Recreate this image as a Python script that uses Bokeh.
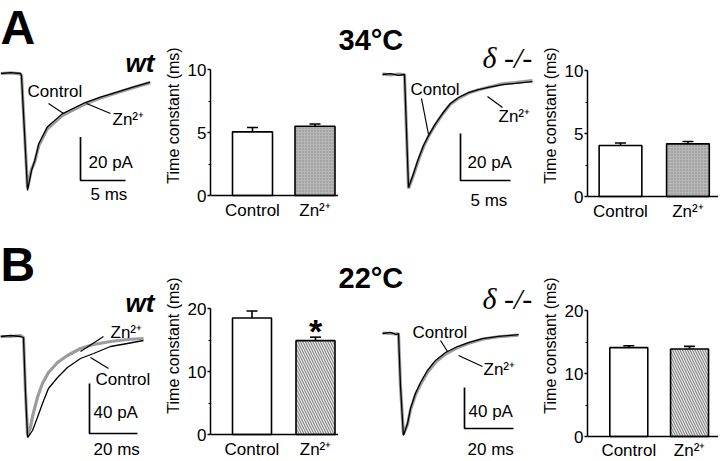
from bokeh.plotting import figure
from bokeh.layouts import row, column
from bokeh.models import Range1d, FixedTicker, Whisker, TeeHead, ColumnDataSource
from bokeh.core.properties import value
from bokeh.embed import file_html
from bokeh.resources import INLINE

FONT = "Liberation Sans"
SERIF = "Liberation Serif"
GRAY = "#9c9c9c"
BASELINE_FIX = 0.35   # em; alphabetic text is drawn this much lower than asked in the svg output

# ---------------- data ----------------
categories = ["Control", "Zn²⁺"]

# Panel A (34 °C) decay time constants (ms), mean and s.e.m.
a_wt_tau = [5.05, 5.5]
a_wt_sem = [0.35, 0.17]
a_ko_tau = [4.05, 4.18]
a_ko_sem = [0.2, 0.18]
# Panel B (22 °C)
b_wt_tau = [18.5, 14.9]
b_wt_sem = [1.1, 0.55]
b_ko_tau = [14.1, 13.9]
b_ko_sem = [0.3, 0.4]

# Example currents: time (ms) and current (pA)
a_wt_t = [-2.3, -1.2, -0.1, 0.0, 0.33, 0.67, 0.89, 1.11, 1.48, 1.92, 2.86, 4.52, 6.92, 8.78, 10.6, 12.4, 14.3]
a_wt_ctrl = [0.0, 0.4, 0.0, -1.0, -27.0, -53.9, -49.3, -44.7, -40.1, -32.4, -24.7, -18.6, -13.7, -10.9, -8.6, -6.3, -4.0]
a_wt_zn = [0.0, 0.3, -0.2, -1.0, -26.5, -52.8, -48.5, -44.2, -40.6, -33.2, -25.6, -19.4, -14.3, -11.3, -8.9, -6.5, -4.2]

a_ko_t = [-2.2, -1.4, -0.6, 0.0, 0.2, 0.4, 0.9, 1.4, 1.9, 2.4, 3.1, 3.8, 4.6, 5.4, 6.4, 7.4, 8.4, 9.8, 11.1, 12.8]
a_ko_ctrl = [0.0, 0.4, -0.4, 0.0, -23.8, -48.1, -42.1, -35.7, -30.2, -26.0, -20.9, -16.6, -12.3, -9.8, -7.7, -6.4, -5.5, -4.3, -3.8, -3.0]
a_ko_zn = [0.3, -0.2, 0.2, 0.0, -24.5, -48.5, -42.8, -36.4, -30.8, -26.4, -21.3, -16.9, -12.6, -10.1, -7.9, -6.5, -5.4, -4.0, -3.4, -2.6]

b_wt_t = [-9.6, -5.4, -1.3, 0.0, 0.8, 1.7, 2.9, 3.75, 5.8, 7.9, 10.4, 14.2, 18.3, 23.75, 29.2, 36.25, 43.3, 50.0]
b_wt_ctrl = [0.0, 0.8, 0.0, -0.8, -43.2, -80.8, -77.6, -75.2, -64.8, -53.6, -41.6, -32.8, -24.8, -17.6, -13.6, -8.0, -5.6, -3.2]
b_wt_zn = [0.0, 0.0, 0.8, -0.8, -43.2, -79.2, -72.8, -64.0, -48.8, -37.6, -28.8, -20.8, -15.2, -9.6, -6.4, -4.0, -2.4, -1.6]

b_ko_t = [-6.5, -3.3, -0.8, 0.0, 0.8, 2.0, 3.7, 4.9, 6.9, 9.0, 11.8, 15.1, 19.2, 24.1, 28.6, 34.3, 40.8, 49.0]
b_ko_ctrl = [0.0, 1.0, -1.0, 0.0, -50.7, -99.5, -87.8, -73.2, -58.5, -47.8, -36.1, -26.3, -18.5, -12.7, -8.8, -4.9, -2.9, -1.0]
b_ko_zn = [0.5, 0.0, -0.5, 0.0, -50.7, -98.5, -88.5, -74.5, -60.0, -49.5, -38.0, -28.0, -20.0, -13.8, -9.5, -5.5, -3.2, -1.5]


# ---------------- helpers ----------------
class Tile:
    """Maps positions given in reference-pixel coordinates to data units."""
    def __init__(self, ox, oy, W, H, x_on, y_base, pxms, pxpa):
        self.ox, self.oy, self.W, self.H = ox, oy, W, H
        self.x_on, self.y_base, self.pxms, self.pxpa = x_on, y_base, pxms, pxpa

    def X(self, rx):
        return (rx - self.x_on) / self.pxms

    def Y(self, ry):
        return (self.y_base - ry) / self.pxpa


def trace_panel(tile, t, ctrl, zn):
    p = figure(width=tile.W, height=tile.H, title=None,
               x_range=Range1d(tile.X(tile.ox), tile.X(tile.ox + tile.W)),
               y_range=Range1d(tile.Y(tile.oy + tile.H), tile.Y(tile.oy)),
               output_backend="svg", toolbar_location=None,
               x_axis_location=None, y_axis_location=None,
               min_border=0, outline_line_color=None)
    p.grid.visible = False
    p.line(t, zn, line_color=GRAY, line_width=3.2)
    p.line(t, ctrl, line_color="black", line_width=1.3)
    return p


def label(p, tile, rx, ry, s, size, style="normal", font=FONT):
    p.text(x=[tile.X(rx)], y=[tile.Y(ry - BASELINE_FIX * size)], text=[s],
           text_font=value(font), text_font_size=f"{size}px", text_font_style=style,
           text_baseline="alphabetic", text_align="left", text_color="black")


def leader(p, tile, r1, r2):
    p.line([tile.X(r1[0]), tile.X(r2[0])], [tile.Y(r1[1]), tile.Y(r2[1])],
           line_color="black", line_width=1.2)


def scale_bar(p, tile, rx, ry, dt, di):
    t0, i0 = tile.X(rx), tile.Y(ry)
    p.line([t0, t0, t0 + dt], [i0 + di, i0, i0], line_color="black", line_width=1.7)


def bar_panel(ox, oy, W, H, left, zero_ry, top_ry, ctrl_cx, zn_cx, bar_w_px,
              ymax, major, minor, vals, errs, zn_fill, zn_hatch, hatch_color,
              hatch_scale, label_standoff):
    axis_rx = ox + left
    s = (zero_ry - top_ry) / ymax
    unit = zn_cx - ctrl_cx
    fw = W - left
    start = 1 - (ctrl_cx - axis_rx) / unit
    end = start + fw / unit
    p = figure(width=W, height=H, title=None, x_range=Range1d(start, end),
               y_range=Range1d(-(oy + H - zero_ry) / s, ymax + (top_ry - oy) / s),
               output_backend="svg", toolbar_location=None,
               min_border_left=left, min_border_right=0, min_border_top=0,
               min_border_bottom=0, outline_line_color=None)
    p.grid.visible = False
    xs = [i + 1 for i in range(len(categories))]
    src = ColumnDataSource(dict(x=xs, top=vals, up=[v + e for v, e in zip(vals, errs)]))
    w = bar_w_px / unit
    p.vbar(x=xs[:1], top=vals[:1], width=w, bottom=0, fill_color="white",
           line_color="black", line_width=1.6)
    p.vbar(x=xs[1:], top=vals[1:], width=w, bottom=0, fill_color=zn_fill,
           hatch_pattern=zn_hatch, hatch_color=hatch_color, hatch_scale=hatch_scale,
           hatch_weight=1.0, line_color="black", line_width=1.6)
    p.add_layout(Whisker(source=src, base="x", lower="top", upper="up",
                         upper_head=TeeHead(size=11, line_width=1.6, line_color="black"),
                         lower_head=None, line_width=1.6, line_color="black"))
    xa, ya = p.xaxis[0], p.yaxis[0]
    xa.fixed_location = 0
    xa.ticker = FixedTicker(ticks=xs, minor_ticks=[])
    xa.major_label_overrides = {x: c for x, c in zip(xs, categories)}
    xa.major_tick_out = 0
    xa.major_tick_in = 0
    xa.major_label_standoff = label_standoff
    xa.major_label_text_font = FONT
    xa.major_label_text_font_size = "17px"
    xa.major_label_text_color = "black"
    ya.bounds = (0, ymax)
    ya.ticker = FixedTicker(ticks=major, minor_ticks=minor)
    ya.major_tick_out = 3
    ya.major_tick_in = 0
    ya.minor_tick_out = 2
    ya.minor_tick_in = 0
    ya.major_label_standoff = 1
    ya.major_label_text_font = FONT
    ya.major_label_text_font_size = "17px"
    ya.major_label_text_color = "black"
    ya.axis_label = "Time constant (ms)"
    ya.axis_label_text_font = FONT
    ya.axis_label_text_font_size = "16px"
    ya.axis_label_text_font_style = "normal"
    ya.axis_label_text_color = "black"
    ya.axis_label_standoff = 3
    for ax in (xa, ya):
        ax.axis_line_width = 1.5
        ax.axis_line_color = "black"
        ax.major_tick_line_width = 1.5
        ax.minor_tick_line_width = 1.2
    return p, s


# ---------------- panel A (34 °C) ----------------
HA, HB = 230, 230

tA1 = Tile(0, 0, 160, HA, 21, 73, 9.0, 2.17)
pA1 = trace_panel(tA1, a_wt_t, a_wt_ctrl, a_wt_zn)
label(pA1, tA1, 0, 44, "A", 48, "bold")
label(pA1, tA1, 125, 72, "wt", 26, "bold italic")
label(pA1, tA1, 27, 97, "Control", 17)
leader(pA1, tA1, (48, 103), (63, 113))
label(pA1, tA1, 112, 125, "Zn²⁺", 17)
leader(pA1, tA1, (86, 103), (110, 113))
scale_bar(pA1, tA1, 80, 180, 5, 20)
label(pA1, tA1, 88, 168, "20 pA", 17)
label(pA1, tA1, 90, 200, "5 ms", 17)

pA2, _ = bar_panel(160, 0, 178, HA, 50, 195, 69, 252, 314.5, 40, 10, [0, 5, 10], [2.5, 7.5],
                   a_wt_tau, a_wt_sem, "#b6b6b6", "dot", "#8a8a8a", 3, 5)

tA3 = Tile(338, 0, 200, HA, 404, 74, 10.0, 2.35)
pA3 = trace_panel(tA3, a_ko_t, a_ko_ctrl, a_ko_zn)
label(pA3, tA3, 338, 50, "34°C", 29, "bold")
label(pA3, tA3, 482, 67, "δ -/-", 30, "italic", SERIF)
label(pA3, tA3, 410, 95, "Contol", 17)
leader(pA3, tA3, (421, 98), (428, 134))
label(pA3, tA3, 498, 122, "Zn²⁺", 17)
leader(pA3, tA3, (487, 96), (502, 107))
scale_bar(pA3, tA3, 460, 180, 5, 20)
label(pA3, tA3, 467, 168, "20 pA", 17)
label(pA3, tA3, 470, 206, "5 ms", 17)

pA4, _ = bar_panel(538, 0, 180, HA, 45, 196, 70, 617, 686.5, 44, 10, [0, 5, 10], [2.5, 7.5],
                   a_ko_tau, a_ko_sem, "#b6b6b6", "dot", "#8a8a8a", 3, 5)

# ---------------- panel B (22 °C) ----------------
tB1 = Tile(0, 230, 160, HB, 23, 336, 2.4, 1.25)
pB1 = trace_panel(tB1, b_wt_t, b_wt_ctrl, b_wt_zn)
label(pB1, tB1, 0, 281, "B", 48, "bold")
label(pB1, tB1, 125, 312, "wt", 26, "bold italic")
label(pB1, tB1, 110, 338, "Zn²⁺", 17)
leader(pB1, tB1, (80, 351), (103, 336))
label(pB1, tB1, 95, 385, "Control", 17)
leader(pB1, tB1, (90, 357), (108, 368))
scale_bar(pB1, tB1, 89, 433, 20, 40)
label(pB1, tB1, 93, 418, "40 pA", 17)
label(pB1, tB1, 93, 455, "20 ms", 17)

pB2, sB2 = bar_panel(160, 230, 178, HB, 50, 434, 308, 251.5, 315, 39, 20, [0, 10, 20], [5, 15],
                     b_wt_tau, b_wt_sem, "#e6e6e6", "left_diagonal_line", "#777777", 5, 5)
# significance mark, its glyph sitting just above the Zn2+ error bar
pB2.text(x=[2], y=[(434 - 330) / sB2], text=["*"], text_font=value(FONT),
         text_font_size="34px", text_font_style="bold", text_align="center",
         text_baseline="alphabetic", text_color="black")

tB3 = Tile(338, 230, 200, HB, 398, 333, 2.45, 1.025)
pB3 = trace_panel(tB3, b_ko_t, b_ko_ctrl, b_ko_zn)
label(pB3, tB3, 338, 288, "22°C", 29, "bold")
label(pB3, tB3, 482, 308, "δ -/-", 30, "italic", SERIF)
label(pB3, tB3, 412, 338, "Control", 17)
leader(pB3, tB3, (440, 340), (447, 351))
label(pB3, tB3, 483, 375, "Zn²⁺", 17)
leader(pB3, tB3, (458, 355), (482, 366))
scale_bar(pB3, tB3, 464, 428, 20, 40)
label(pB3, tB3, 468, 417, "40 pA", 17)
label(pB3, tB3, 467, 455, "20 ms", 17)

pB4, _ = bar_panel(538, 230, 180, HB, 42, 436, 310, 623.5, 687.5, 40, 20, [0, 10, 20], [5, 15],
                   b_ko_tau, b_ko_sem, "#e6e6e6", "left_diagonal_line", "#777777", 5, 4)

layout = column(row(pA1, pA2, pA3, pA4), row(pB1, pB2, pB3, pB4))

open("out.html", "w").write(file_html(layout, INLINE))
